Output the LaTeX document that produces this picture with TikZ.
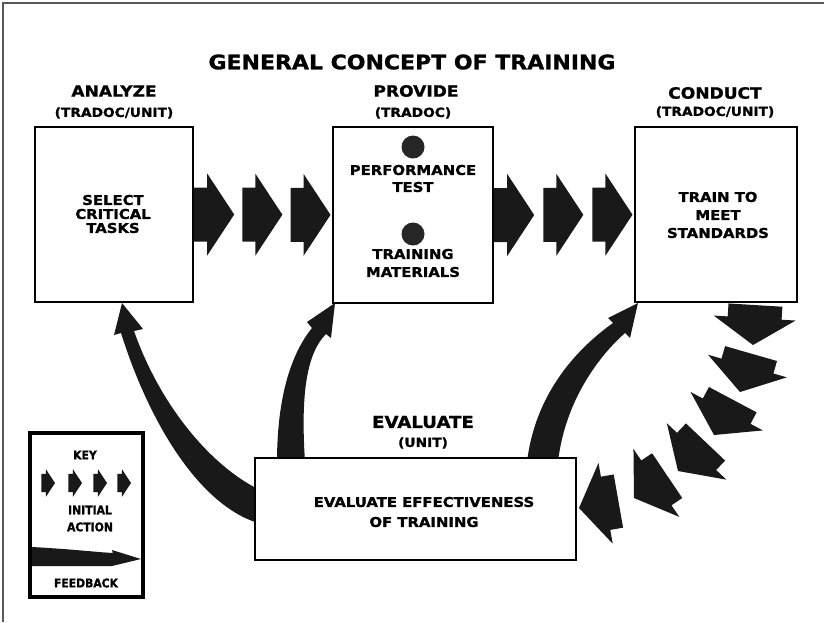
\documentclass[tikz,border=0pt]{standalone}
\usepackage{fontspec}
\newfontfamily\diagfont{DejaVu Sans}[FakeStretch=1.1,BoldFeatures={FakeBold=1.2}]
\newfontfamily\keyfont{DejaVu Sans}[FakeStretch=0.9,BoldFeatures={FakeBold=1.2}]
\usetikzlibrary{calc,positioning,backgrounds}
\pgfdeclarelayer{edgelayer}
\pgfdeclarelayer{nodelayer}
\pgfsetlayers{background,edgelayer,nodelayer,main}
\newcommand{\fsz}[2]{\fontsize{#1}{#2}\selectfont}
\tikzstyle{none}=[inner sep=0mm]
\tikzstyle{stage box}=[rectangle,draw=black,line width=2.4pt,fill=white,inner sep=0pt]
\tikzstyle{heading}=[inner sep=0mm,font=\diagfont\bfseries\fsz{15.5}{17}]
\tikzstyle{owner}=[inner sep=0mm,font=\diagfont\bfseries\fsz{12.5}{14}]
\tikzstyle{box text}=[inner sep=0mm,align=center,font=\diagfont\bfseries\fsz{13.5}{14}]
\tikzstyle{key text}=[inner sep=0mm,align=center,font=\keyfont\bfseries\fsz{12}{17}]
\tikzstyle{bullet}=[circle,fill=black!85,inner sep=0pt,minimum size=23pt]
\tikzstyle{arrow fill}=[fill=black!90]
\tikzset{
	block arrow/.pic={\path[arrow fill] (-40,-27) -- (-27,-27) -- (-27,-41) -- (0,0) -- (-27,41) -- (-27,27) -- (-40,27) -- cycle;}
}

\begin{document}
\begin{tikzpicture}[x=1pt,y=-1pt]
	\useasboundingbox (0,0) rectangle (824,622);
	\draw[black!65,line width=2.5pt] (3,622) -- (3,3) -- (824,3);
	\begin{pgfonlayer}{nodelayer}
		\node [style=none,font=\diagfont\bfseries\fsz{20}{24}] (title) at (412,62) {GENERAL CONCEPT OF TRAINING};
		% stages
		\node [style={stage box},minimum width=158pt,minimum height=175pt] (analyze) at (114,214.5) {};
		\node [style={stage box},minimum width=160pt,minimum height=176pt] (provide) at (413,215) {};
		\node [style={stage box},minimum width=162pt,minimum height=175pt] (conduct) at (716,214.5) {};
		\node [style={stage box},minimum width=321pt,minimum height=102pt] (evaluate) at (415.5,509) {};
		\node [style=heading] (analyzehd) at (114,91) {ANALYZE};
		\node [style=owner] (analyzeown) at (114,113) {(TRADOC/UNIT)};
		\node [style=heading] (providehd) at (416,91) {PROVIDE};
		\node [style=owner] (provideown) at (413,113) {(TRADOC)};
		\node [style=heading] (conducthd) at (715,93) {CONDUCT};
		\node [style=owner] (conductown) at (715,112) {(TRADOC/UNIT)};
		\node [style=heading,font=\diagfont\bfseries\fsz{16.5}{18}] (evaluatehd) at (423,422) {EVALUATE};
		\node [style=owner] (evaluateown) at (423,443) {(UNIT)};
		\node [style={box text}] (selecttxt) at (113,214) {SELECT\\CRITICAL\\TASKS};
		\node [style=bullet] (dot1) at (413,147) {};
		\node [style={box text},font=\diagfont\bfseries\fsz{13.5}{17}] (testtxt) at (413,178.5) {PERFORMANCE\\TEST};
		\node [style=bullet] (dot2) at (413,234) {};
		\node [style={box text},font=\diagfont\bfseries\fsz{13.5}{18}] (mattxt) at (413,263) {TRAINING\\MATERIALS};
		\node [style={box text},font=\diagfont\bfseries\fsz{13.5}{18}] (traintxt) at (718,215) {TRAIN TO\\MEET\\STANDARDS};
		\node [style={box text},font=\diagfont\bfseries\fsz{13.5}{20}] (evaltxt) at (424,512) {EVALUATE EFFECTIVENESS\\OF TRAINING};
		% key
		\node [style={stage box},line width=3.2pt,minimum width=113pt,minimum height=164pt] (key) at (86.5,515) {};
	\end{pgfonlayer}
	\begin{pgfonlayer}{edgelayer}
		\foreach \t in {0,0.35,0.7}
			\pic at ($(analyze.east)!\t!(provide.west)+(40,0)$) {block arrow};
		\foreach \t in {0,0.352,0.704}
			\pic at ($(provide.east)!\t!(conduct.west)+(40,0)$) {block arrow};
		\foreach \x/\y/\a in {753/345/93.5,740/392/106,714/435/118,678/471/133.5,634/498/146,579/508/170}
			\pic [rotate=-\a] at (\x,\y) {block arrow};
		% feedback
		\path[arrow fill] (258,523) .. controls (200,505) and (150,425) .. (121,333) -- (114,335) -- (122,303) -- (143,329) -- (134,331) .. controls (160,405) and (210,465) .. (258,489) -- cycle;
		\path[arrow fill] (277,462) .. controls (277,400) and (290,355) .. (312,328) -- (307,322) -- (335,303) -- (331,338) -- (326,334) .. controls (305,355) and (301,400) .. (305,462) -- cycle;
		\path[arrow fill] (527,462) .. controls (535,395) and (575,350) .. (613,323) -- (608,318) -- (638,303) -- (630,338) -- (625,333) .. controls (600,355) and (565,400) .. (558,462) -- cycle;
	\end{pgfonlayer}
	\node [style={key text}] (keyhd) at (85,455) {KEY};
	\foreach \x in {55,82,107,131}
		\pic [scale=0.34] at (\x,483) {block arrow};
	\node [style={key text}] (keytxt) at (90,518.5) {INITIAL\\ACTION};
	\path[arrow fill] (32,547) .. controls (70,549) and (95,552) .. (113,553) -- (112,550) -- (141,559) -- (112,566) -- (32,566) -- cycle;
	\node [style={key text}] (fbtxt) at (86,583) {FEEDBACK};
\end{tikzpicture}
\end{document}
